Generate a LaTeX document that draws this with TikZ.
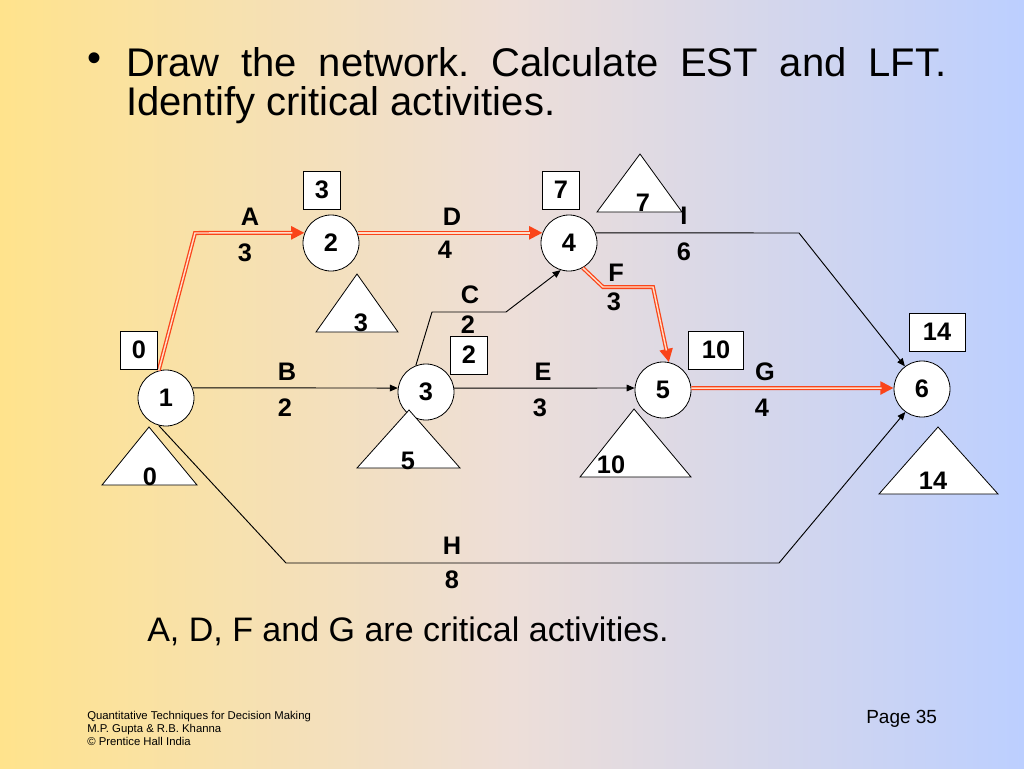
\documentclass[tikz,border=0pt]{standalone}
\usepackage{fontspec}
\setmainfont{Liberation Sans}
\usetikzlibrary{arrows.meta}
\definecolor{bgleft}{RGB}{255,227,140}
\definecolor{bgmid}{RGB}{237,222,216}
\definecolor{bgright}{RGB}{188,207,255}
\definecolor{critred}{RGB}{250,68,25}
\definecolor{critpale}{RGB}{255,222,200}
\newcommand\lblfont{\fontsize{19}{19}\selectfont\bfseries}
\newcommand\titlefont{\fontsize{30}{36}\selectfont}
\frenchspacing
\begin{document}
\begin{tikzpicture}[x=0.75pt,y=-0.75pt,
  ev/.style={circle,draw,fill=white,line width=0.6pt,minimum size=42pt,inner sep=0pt,font=\lblfont},
  estbox/.style={draw,fill=white,line width=0.6pt,minimum width=27.5pt,minimum height=28.5pt,inner sep=0pt,font=\lblfont},
  labl/.style={inner sep=0pt,font=\lblfont},
  tri/.style={draw,fill=white,line width=0.6pt,line join=miter},
  act/.style={draw,line width=0.7pt,-{Triangle[length=6pt,width=5pt]}},
  crit/.style={draw=critred,line width=3pt,-{Triangle[length=10pt,width=9.5pt]},
    postaction={draw=critpale,line width=1.1pt,-,shorten >=9pt}}
]
\path[left color=bgleft,right color=bgright,middle color=bgmid] (0,0) rectangle (1024,768);
\useasboundingbox (0,0) rectangle (1024,768);

% title
\node[inner sep=0pt,font=\titlefont] (bul) at (95,62) {•};
\node[anchor=base west,inner sep=0pt,font=\titlefont] (t1) at (126,76) {\makebox[615pt][s]{Draw the network. Calculate EST and LFT.}};
\node[anchor=base west,inner sep=0pt,font=\titlefont] (t2) at (126,115) {Identify critical activities.};

% events
\node[ev] (n1) at (166,398) {1};
\node[ev] (n2) at (331,243) {2};
\node[ev] (n3) at (426,392) {3};
\node[ev] (n4) at (569,243) {4};
\node[ev] (n5) at (663,390) {5};
\node[ev] (n6) at (922,389) {6};

% activities
\draw[crit] (n1.105) -- (195,233) -- (n2.159);
\draw[crit] (n2.21) -- (n4.159);
\draw[crit] (n4.-61) -- (603,287) -- (653,287) -- (n5.78);
\draw[crit] (n5.4) -- (n6.178);
\draw[act] (n1.21) -- (n3.172);
\draw[act] (n3.8) -- (n5.176);
\draw[act] (n3.111) -- (432,312) -- (506,312) -- (n4.253);
\draw[act] (n4.21) -- (799,233) -- (n6.127);
\draw[act] (n1.-105) -- (286,563) -- (779,563) -- (n6.-126);

% activity labels
\node[labl] (lA) at (250,217) {A};
\node[labl] (dA) at (245,253) {3};
\node[labl] (lD) at (452,217) {D};
\node[labl] (dD) at (445,250) {4};
\node[labl] (lI) at (684,216) {I};
\node[labl] (dI) at (684,252) {6};
\node[labl] (lF) at (616,273) {F};
\node[labl] (dF) at (614,302) {3};
\node[labl] (lC) at (470,295) {C};
\node[labl] (dC) at (468,325) {2};
\node[labl] (lB) at (287,372) {B};
\node[labl] (dB) at (285,408) {2};
\node[labl] (lE) at (543,372) {E};
\node[labl] (dE) at (540,408) {3};
\node[labl] (lG) at (765,372) {G};
\node[labl] (dG) at (762,408) {4};
\node[labl] (lH) at (452,546) {H};
\node[labl] (dH) at (452,580) {8};

% LFT triangles
\draw[tri] (102,485) -- (149,427) -- (197,485) -- cycle;
\node[labl] (f1) at (150,477) {0};
\draw[tri] (316,332) -- (357,274) -- (398,332) -- cycle;
\node[labl] (f2) at (361,323) {3};
\draw[tri] (357,468) -- (409,410) -- (460,468) -- cycle;
\node[labl] (f3) at (408,461) {5};
\draw[tri] (597,212) -- (640,154) -- (682,212) -- cycle;
\node[labl] (f4) at (643,203) {7};
\draw[tri] (580,477) -- (634,409) -- (691,477) -- cycle;
\node[labl] (f5) at (611,465) {10};
\draw[tri] (879,494) -- (938,427) -- (998,494) -- cycle;
\node[labl] (f6) at (933,481) {14};

% EST boxes
\node[estbox] (e1) at (139,350) {0};
\node[estbox] (e2) at (322,190) {3};
\node[estbox] (e3) at (469,355) {2};
\node[estbox] (e4) at (561,190) {7};
\node[estbox,minimum width=41pt] (e5) at (716,350) {10};
\node[estbox,minimum width=42pt] (e6) at (937,332) {14};

% conclusion
\node[anchor=base west,inner sep=0pt,font=\fontsize{25.5}{30}\selectfont] (concl) at (147,641) {A, D, F and G are critical activities.};

% footer
\node[anchor=base west,inner sep=0pt,font=\fontsize{8.5}{10}\selectfont] (ft1) at (87,719) {Quantitative Techniques for Decision Making};
\node[anchor=base west,inner sep=0pt,font=\fontsize{8.5}{10}\selectfont] (ft2) at (87,732) {M.P. Gupta \& R.B. Khanna};
\node[anchor=base west,inner sep=0pt,font=\fontsize{8.5}{10}\selectfont] (ft3) at (87,745) {© Prentice Hall India};
\node[anchor=base west,inner sep=0pt,font=\fontsize{14.25}{16}\selectfont] (pg) at (866,723) {Page 35};
\end{tikzpicture}
\end{document}
